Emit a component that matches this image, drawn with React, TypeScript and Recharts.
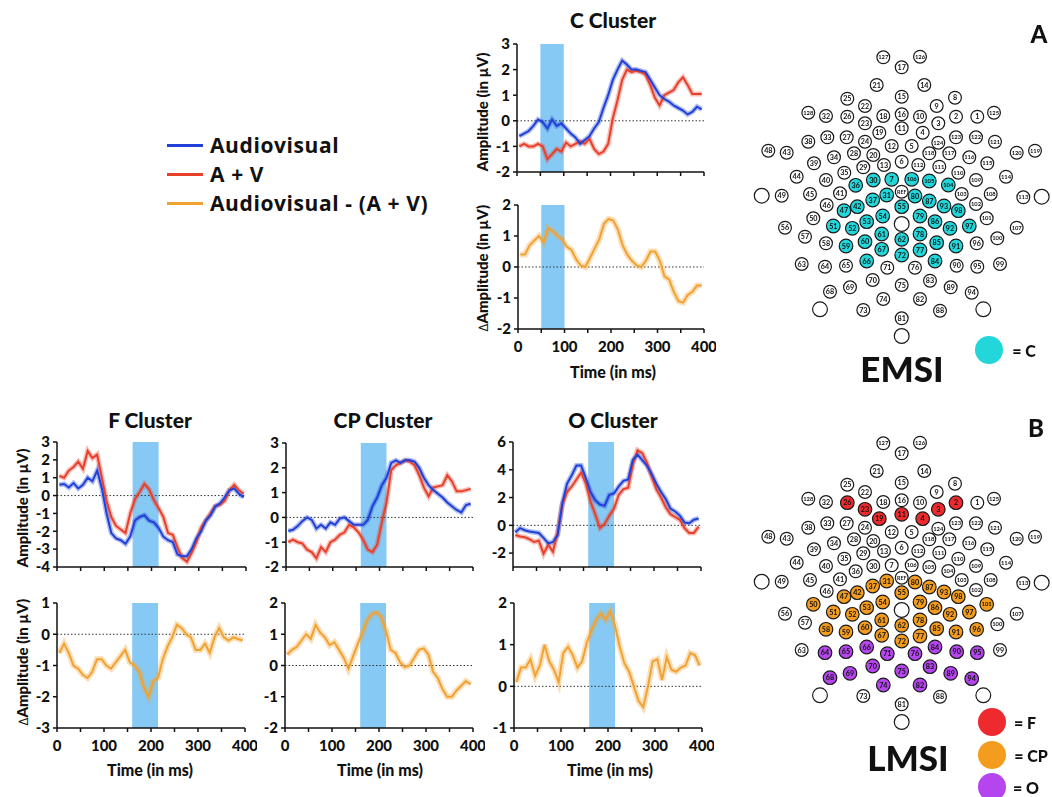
import React from 'react';
import {
  ComposedChart,
  Line,
  XAxis,
  YAxis,
  ReferenceArea,
  ReferenceLine,
  ScatterChart,
  Scatter,
} from 'recharts';

const FONT = 'Lato, "Open Sans", sans-serif';
const BLUE = '#2040d8';
const RED = '#e8402a';
const ORANGE = '#f2a233';
const SHADE = '#86c9f4';

// time axis (ms)
const times = [
  5, 15, 25, 35, 45, 55, 65, 75, 85, 95, 105, 115, 125, 135, 145, 155, 165, 175, 185, 195,
  205, 215, 225, 235, 245, 255, 265, 275, 285, 295, 305, 315, 325, 335, 345, 355, 365, 375, 385, 395,
];
const xTicks = [0, 50, 100, 150, 200, 250, 300, 350, 400];

// C cluster (EMSI)
const cAudiovisual = [
  -0.6, -0.5, -0.4, -0.2, 0.05, -0.05, -0.3, 0.05, -0.2, -0.1, -0.3, -0.5, -0.65, -0.9, -0.75, -0.6, -0.3, -0.05, 0.5, 1.0,
  1.6, 2.0, 2.35, 2.2, 2.0, 2.0, 1.95, 1.9, 1.6, 1.3, 1.0, 0.85, 0.75, 0.6, 0.5, 0.4, 0.25, 0.35, 0.55, 0.45,
];
const cSum = [
  -1.0, -0.9, -1.0, -1.0, -0.9, -1.0, -1.5, -1.3, -1.1, -1.2, -0.85, -1.0, -0.9, -0.8, -0.9, -0.7, -1.1, -1.3, -1.2, -0.9,
  0.1, 0.8, 1.6, 2.0, 1.9, 1.95, 1.9, 1.8, 1.4, 0.9, 0.6, 1.0, 1.1, 1.2, 1.5, 1.7, 1.4, 1.05, 1.05, 1.05,
];
const cDiff = [
  0.4, 0.4, 0.7, 0.85, 1.0, 0.8, 1.25, 1.15, 1.0, 0.9, 0.65, 0.55, 0.25, 0.05, 0.0, 0.3, 0.6, 0.9, 1.4, 1.55,
  1.5, 1.2, 0.7, 0.4, 0.2, 0.05, 0.0, 0.2, 0.5, 0.5, 0.2, -0.3, -0.4, -0.8, -1.1, -1.15, -0.9, -0.8, -0.6, -0.6,
];

// F cluster (LMSI)
const fAudiovisual = [
  0.6, 0.65, 0.45, 0.7, 0.4, 0.6, 1.0, 0.8, 1.4, 0.4, -1.0, -2.1, -2.4, -2.5, -2.7, -2.3, -1.4, -1.2, -1.1, -1.4,
  -1.5, -1.8, -2.3, -2.5, -2.6, -3.3, -3.4, -3.4, -3.0, -2.4, -2.0, -1.4, -1.1, -0.6, -0.45, -0.1, 0.3, 0.4, 0.1, -0.1,
];
const fSum = [
  1.1, 1.0, 1.4, 1.6, 1.9, 1.5, 2.5, 2.1, 2.3, 1.0, -0.3, -1.2, -1.7, -1.9, -2.1, -1.0, -0.2, 0.2, 0.65, 0.35,
  -0.25, -0.7, -1.2, -2.1, -2.2, -2.9, -3.5, -3.7, -3.2, -2.6, -1.8, -1.4, -1.0, -0.6, -0.5, -0.3, 0.3, 0.6, 0.3, 0.1,
];
const fDiff = [
  -0.6, -0.3, -0.6, -1.0, -1.1, -1.3, -1.4, -1.2, -0.8, -0.8, -1.0, -1.1, -0.9, -0.7, -0.5, -0.9, -1.0, -1.2, -1.7, -2.0,
  -1.5, -1.4, -0.8, -0.4, -0.1, 0.3, 0.2, 0.0, -0.1, -0.5, -0.5, -0.3, -0.6, -0.1, 0.2, -0.1, -0.2, -0.1, -0.15, -0.2,
];

// CP cluster (LMSI)
const cpAudiovisual = [
  -0.55, -0.5, -0.35, -0.15, 0.0, -0.1, -0.45, -0.3, -0.45, -0.2, -0.3, -0.05, 0.0, -0.15, -0.3, -0.3, -0.3, -0.1, 0.45, 0.8,
  1.3, 1.6, 2.2, 2.3, 2.2, 2.3, 2.3, 2.25, 2.0, 1.6, 1.3, 1.1, 0.95, 0.8, 0.6, 0.45, 0.3, 0.2, 0.5, 0.55,
];
const cpSum = [
  -1.0, -0.9, -1.0, -1.05, -1.3, -1.4, -1.65, -1.2, -1.4, -1.0, -0.9, -0.7, -0.6, -0.3, -0.4, -0.6, -0.9, -1.3, -1.4, -1.1,
  -0.2, 0.6, 1.9, 2.1, 2.2, 2.3, 2.25, 2.1, 1.7, 1.2, 0.85, 1.2, 1.25, 1.3, 1.7, 1.45, 1.05, 1.05, 1.1, 1.15,
];
const cpDiff = [
  0.35, 0.5, 0.6, 0.8, 1.0, 0.85, 1.3, 1.05, 0.9, 0.65, 0.75, 0.5, 0.25, -0.1, 0.3, 0.7, 1.05, 1.45, 1.65, 1.7,
  1.55, 1.1, 0.5, 0.4, 0.1, -0.05, 0.0, 0.25, 0.5, 0.55, 0.35, -0.2, -0.4, -0.75, -1.0, -1.0, -0.8, -0.65, -0.5, -0.6,
];

// O cluster (LMSI)
const oAudiovisual = [
  -0.5, -0.2, -0.35, -0.45, -0.5, -0.55, -0.9, -1.3, -1.2, -0.7, 1.6, 3.0, 3.6, 4.3, 4.3, 3.4, 2.4, 1.8, 1.5, 1.4,
  2.2, 2.3, 2.8, 3.2, 3.3, 4.7, 5.1, 4.7, 4.3, 3.7, 3.0, 2.4, 1.9, 1.2, 1.0, 0.7, 0.2, 0.15, 0.4, 0.5,
];
const oSum = [
  -0.7, -0.8, -0.85, -1.0, -1.2, -1.1, -2.05, -1.4, -1.9, -0.5, 1.5, 2.4, 2.8, 3.3, 3.8, 3.0, 1.7, 0.8, -0.2, 0.1,
  0.7, 1.2, 2.2, 2.6, 2.7, 4.4, 5.4, 5.2, 4.5, 3.5, 2.6, 2.0, 1.3, 0.8, 0.6, 0.4, -0.2, -0.55, -0.55, -0.1,
];
const oDiff = [
  0.1, 0.45, 0.45, 0.65, 0.25, 0.5, 1.0, 0.6, 0.4, 0.1, 0.8, 0.95, 0.75, 0.45, 0.6, 1.05, 1.35, 1.6, 1.75, 1.6,
  1.8, 1.45, 0.95, 0.55, 0.35, 0.0, -0.35, -0.5, 0.0, 0.6, 0.65, 0.15, 0.7, 0.4, 0.35, 0.45, 0.5, 0.8, 0.75, 0.5,
];

// HydroCel-style sensor layout: [label, x, y] (REF at origin, y up)
const electrodeSites: [string, number, number][] = [
  ['127', -18.4, 134.4], ['126', 18.3, 135], ['17', 0, 124.4], ['21', -25, 106.7], ['14', 22.6, 106.7],
  ['15', 0, 95], ['25', -54.4, 93], ['8', 53.3, 94], ['22', -36.7, 85.7], ['9', 35, 85.7],
  ['128', -93.4, 79], ['32', -75.7, 75.7], ['26', -54.4, 75], ['18', -18.4, 75.7], ['16', 0, 77.4],
  ['10', 18.3, 75], ['2', 54.3, 75], ['1', 75.6, 75], ['125', 92.3, 79], ['23', -36.7, 68.4],
  ['3', 36.6, 68.4], ['11', 0, 63.4], ['19', -22.4, 59], ['4', 21, 59], ['38', -93.4, 50],
  ['33', -74.4, 54.4], ['27', -55, 54.4], ['24', -36.7, 50], ['12', -10, 45.7], ['5', 10, 45.7],
  ['124', 36.6, 49], ['123', 54.3, 54.4], ['122', 74.3, 54.4], ['121', 93.3, 50], ['48', -133.4, 41],
  ['43', -115, 39], ['28', -47.7, 38.4], ['20', -28.4, 36.7], ['118', 27.6, 38.4], ['117', 47.6, 38.4],
  ['116', 67.6, 34.4], ['120', 115, 39], ['119', 133.3, 41], ['39', -87.7, 28.4], ['34', -67.7, 34.4],
  ['6', 0, 30], ['13', -17.7, 26.7], ['112', 16.6, 26.7], ['111', 37.6, 25], ['115', 85.6, 28.4],
  ['29', -38.4, 24.4], ['35', -57.4, 19], ['110', 56.6, 19], ['44', -105, 15], ['114', 104.3, 15],
  ['40', -75.7, 11.7], ['109', 74.3, 11.7], ['36', -46, 6.4], ['30', -28.4, 11.7], ['7', -10, 12.4],
  ['106', 10, 12.4], ['105', 27.6, 10.7], ['104', 46.6, 6.7], ['', -140, -4], ['49', -120, -4],
  ['45', -91.7, -2.3], ['41', -61.7, -1.6], ['REF', 0, 0], ['31', -15, -3.3], ['80', 13.3, -4.3],
  ['103', 60, -2.3], ['108', 89, -2.3], ['113', 121.6, -5.6], ['', 140, -5], ['46', -75, -13.3],
  ['37', -29, -8.3], ['87', 27.6, -9.3], ['93', 42.3, -14.3], ['102', 74.3, -12.3], ['47', -57.7, -19],
  ['42', -44.4, -15], ['55', 0, -15], ['98', 56.6, -19], ['50', -88.4, -26.6], ['54', -19, -24.3],
  ['79', 18.3, -24.3], ['101', 85, -26.6], ['56', -116.7, -36], ['51', -68.4, -34.3], ['52', -49.4, -36.6],
  ['53', -35, -30], ['', 0, -32.3], ['86', 33.3, -30], ['92', 48.3, -36.6], ['97', 67.6, -34.3],
  ['107', 115, -36], ['57', -96.7, -45], ['61', -20, -42.3], ['78', 18.3, -42.3], ['100', 95.6, -46.6],
  ['58', -75.7, -51.6], ['59', -55.7, -54.3], ['60', -36.7, -50], ['62', 0, -47.6], ['85', 35, -51],
  ['91', 54.3, -54.3], ['96', 75, -51.6], ['67', -20, -57.6], ['72', 0, -63.3], ['77', 18.3, -58.3],
  ['63', -100, -72.3], ['64', -76.7, -75], ['65', -55.7, -74], ['66', -35, -69.3], ['71', -14.4, -76],
  ['76', 13.3, -76], ['84', 33.3, -69.3], ['90', 55, -74], ['95', 75.6, -75], ['99', 98.3, -72.3],
  ['70', -29, -88.3], ['75', 0, -93.3], ['83', 28.3, -89], ['69', -51.7, -95.6], ['89', 49, -95.6],
  ['68', -71.7, -100], ['94', 70, -101], ['74', -18.4, -107.3], ['82', 18.3, -107.3], ['', -81.7, -117.6],
  ['', 81.6, -117.6], ['73', -38.4, -118.3], ['88', 38.3, -119], ['81', 0, -126.6], ['', 0, -144.3],
];

const cSites = ['36', '30', '7', '106', '105', '104', '31', '80', '37', '87', '93', '47', '42', '55', '98', '54', '79',
  '51', '52', '53', '86', '92', '97', '61', '78', '59', '60', '62', '85', '91', '67', '72', '77', '66', '84'];
const fSites = ['26', '23', '19', '11', '4', '3', '2'];
const cpSites = ['31', '80', '37', '87', '93', '98', '47', '42', '55', '50', '54', '79', '101', '51', '52', '53', '86',
  '92', '97', '61', '78', '58', '59', '60', '62', '85', '91', '96', '67', '72', '77'];
const oSites = ['64', '65', '66', '71', '76', '84', '90', '95', '68', '69', '70', '75', '83', '89', '94', '74', '82'];

const CYAN = '#22d6da';
const F_RED = '#ee2a2e';
const CP_ORANGE = '#f39c1e';
const O_PURPLE = '#b545ee';

const PAD_L = 50;
const PAD_T = 14;
const PAD_R = 12;
const AXIS_H = 30;

type Series = { values: number[]; color: string; band: number };

function ErpChart({ left, top, width, height, series, yDomain, yTicks, shade, xLabels }: {
  left: number; top: number; width: number; height: number; series: Series[];
  yDomain: [number, number]; yTicks: number[]; shade: [number, number]; xLabels: boolean;
}) {
  const data = times.map((t, i) => {
    const row: Record<string, number> = { t };
    series.forEach((s, k) => { row['s' + k] = s.values[i]; });
    return row;
  });
  const tickStyle = { fill: '#111', fontSize: 15, fontWeight: 900, fontFamily: FONT };
  return (
    <div style={{ position: 'absolute', left: left - PAD_L, top: top - PAD_T }}>
      <ComposedChart
        width={width + PAD_L + PAD_R}
        height={height + PAD_T + AXIS_H}
        data={data}
        margin={{ top: PAD_T, right: PAD_R, bottom: 0, left: 0 }}
      >
        <XAxis
          dataKey="t"
          type="number"
          domain={[0, 400]}
          ticks={xTicks}
          allowDataOverflow
          height={AXIS_H}
          tickSize={4}
          tickMargin={8}
          stroke="#111"
          strokeWidth={1.5}
          tick={tickStyle}
          interval={0}
          tickFormatter={(v: number) => (xLabels && v % 100 === 0 ? String(v) : '')}
        />
        <YAxis
          type="number"
          domain={yDomain}
          ticks={yTicks}
          allowDataOverflow
          width={PAD_L}
          tickSize={4}
          tickMargin={3}
          stroke="#111"
          strokeWidth={1.5}
          tick={tickStyle}
          interval={0}
        />
        <ReferenceArea
          x1={shade[0]}
          x2={shade[1]}
          y1={yDomain[0]}
          y2={yDomain[1]}
          fill={SHADE}
          fillOpacity={1}
          stroke="none"
        />
        <ReferenceLine y={0} stroke="#333" strokeDasharray="1.5 2" strokeWidth={1} />
        {series.map((s, k) => (
          <Line
            key={'b' + k}
            dataKey={'s' + k}
            type="linear"
            stroke={s.color}
            strokeOpacity={0.35}
            strokeWidth={s.band}
            dot={false}
            activeDot={false}
            isAnimationActive={false}
          />
        ))}
        {series.map((s, k) => (
          <Line
            key={'l' + k}
            dataKey={'s' + k}
            type="linear"
            stroke={s.color}
            strokeWidth={2}
            dot={false}
            activeDot={false}
            isAnimationActive={false}
          />
        ))}
      </ComposedChart>
    </div>
  );
}

function Text({ x, y, size, children, rotate, weight = 900 }: {
  x: number; y: number; size: number; children: React.ReactNode; rotate?: boolean; weight?: number;
}) {
  return (
    <div
      style={{
        position: 'absolute',
        left: x,
        top: y,
        transform: `translate(-50%, -50%)${rotate ? ' rotate(-90deg)' : ''}`,
        whiteSpace: 'nowrap',
        fontFamily: FONT,
        fontWeight: weight,
        fontSize: size,
        color: '#111',
        lineHeight: 1,
      }}
    >
      {children}
    </div>
  );
}

const amp = 'Amplitude (in µV)';
const dAmp = (
  <span>
    <span style={{ fontWeight: 400, fontSize: 13 }}>∆</span>Amplitude (in µV)
  </span>
);

function ElectrodeMap({ top, colors }: { top: number; colors: Record<string, string> }) {
  const pts = electrodeSites.map(([label, x, y]) => ({ label, x, y, fill: colors[label] ?? '#fff' }));
  const renderSite = (props: any) => {
    const { cx, cy, payload } = props;
    const colored = payload.fill !== '#fff';
    const r = payload.label ? (colored ? 6.8 : 6.4) : 7.4;
    const len = payload.label.length;
    const fs = payload.label === 'REF' ? 5.2 : len === 3 ? 5.8 : 7.2;
    return (
      <g>
        <circle cx={cx} cy={cy} r={r} fill={payload.fill} stroke="#1a1a1a" strokeWidth={1.2} />
        {payload.label && (
          <text
            x={cx}
            y={cy + fs * 0.36}
            textAnchor="middle"
            fontSize={fs}
            fontWeight={700}
            fontFamily={FONT}
            fill="#111"
            stroke="none"
          >
            {payload.label}
          </text>
        )}
      </g>
    );
  };
  return (
    <div style={{ position: 'absolute', left: 740, top, opacity: 0.999, willChange: 'transform' }}>
      <ScatterChart width={312} height={390} margin={{ top: 0, right: 0, bottom: 0, left: 0 }}>
        <XAxis type="number" dataKey="x" domain={[-161.7, 150.3]} allowDataOverflow hide />
        <YAxis type="number" dataKey="y" domain={[-198.3, 191.7]} allowDataOverflow hide />
        <Scatter data={pts} shape={renderSite} isAnimationActive={false} />
      </ScatterChart>
    </div>
  );
}

function Swatch({ x, y, color }: { x: number; y: number; color: string }) {
  return (
    <div
      style={{
        position: 'absolute',
        left: x - 14,
        top: y - 14,
        width: 28,
        height: 28,
        borderRadius: 14,
        background: color,
      }}
    />
  );
}

function LegendRow({ y, color, label }: { y: number; color: string; label: string }) {
  return (
    <>
      <div style={{ position: 'absolute', left: 167, top: y - 1.5, width: 36, height: 3, background: color }} />
      <div
        style={{
          position: 'absolute',
          left: 210,
          top: y - 13,
          fontFamily: '"Open Sans", Lato, sans-serif',
          fontWeight: 700,
          fontSize: 21,
          letterSpacing: 0.6,
          lineHeight: '26px',
          color: '#111',
          whiteSpace: 'nowrap',
        }}
      >
        {label}
      </div>
    </>
  );
}

export default function App() {
  const mapA: Record<string, string> = {};
  cSites.forEach((s) => { mapA[s] = CYAN; });
  const mapB: Record<string, string> = {};
  fSites.forEach((s) => { mapB[s] = F_RED; });
  cpSites.forEach((s) => { mapB[s] = CP_ORANGE; });
  oSites.forEach((s) => { mapB[s] = O_PURPLE; });

  return (
    <div style={{ position: 'absolute', left: 0, top: 0, width: 1052, height: 797, background: '#fff', overflow: 'hidden' }}>
      {/* legend */}
      <LegendRow y={145} color={BLUE} label="Audiovisual" />
      <LegendRow y={174} color={RED} label="A + V" />
      <LegendRow y={203} color={ORANGE} label="Audiovisual - (A + V)" />

      {/* C cluster */}
      <Text x={613} y={19} size={21}>C Cluster</Text>
      <Text x={482} y={112} size={15} rotate>{amp}</Text>
      <ErpChart left={517} top={44} width={187} height={128}
        series={[{ values: cSum, color: RED, band: 5 }, { values: cAudiovisual, color: BLUE, band: 5 }]}
        yDomain={[-2, 3]} yTicks={[-2, -1, 0, 1, 2, 3]} shade={[50, 100]} xLabels={false} />
      <Text x={482} y={268} size={15} rotate>{dAmp}</Text>
      <ErpChart left={518} top={205} width={186} height={124}
        series={[{ values: cDiff, color: ORANGE, band: 6 }]}
        yDomain={[-2, 2]} yTicks={[-2, -1, 0, 1, 2]} shade={[50, 100]} xLabels />
      <Text x={613} y={372} size={16}>Time (in ms)</Text>

      {/* F cluster */}
      <Text x={150} y={419} size={21}>F Cluster</Text>
      <Text x={22} y={508} size={15} rotate>{amp}</Text>
      <ErpChart left={57} top={442} width={189} height={125}
        series={[{ values: fSum, color: RED, band: 5 }, { values: fAudiovisual, color: BLUE, band: 5 }]}
        yDomain={[-4, 3]} yTicks={[-4, -3, -2, -1, 0, 1, 2, 3]} shade={[160, 215]} xLabels={false} />
      <Text x={22} y={662} size={15} rotate>{dAmp}</Text>
      <ErpChart left={57} top={603} width={188} height={125}
        series={[{ values: fDiff, color: ORANGE, band: 6 }]}
        yDomain={[-3, 1]} yTicks={[-3, -2, -1, 0, 1]} shade={[160, 215]} xLabels />
      <Text x={150} y={770} size={16}>Time (in ms)</Text>

      {/* CP cluster */}
      <Text x={383} y={419} size={21}>CP Cluster</Text>
      <ErpChart left={286} top={443} width={187} height={124}
        series={[{ values: cpSum, color: RED, band: 5 }, { values: cpAudiovisual, color: BLUE, band: 5 }]}
        yDomain={[-2, 3]} yTicks={[-2, -1, 0, 1, 2, 3]} shade={[160, 215]} xLabels={false} />
      <ErpChart left={285} top={603} width={188} height={125}
        series={[{ values: cpDiff, color: ORANGE, band: 6 }]}
        yDomain={[-2, 2]} yTicks={[-2, -1, 0, 1, 2]} shade={[160, 215]} xLabels />
      <Text x={380} y={770} size={16}>Time (in ms)</Text>

      {/* O cluster */}
      <Text x={613} y={419} size={21}>O Cluster</Text>
      <ErpChart left={513} top={442} width={188} height={125}
        series={[{ values: oSum, color: RED, band: 5 }, { values: oAudiovisual, color: BLUE, band: 5 }]}
        yDomain={[-3, 6]} yTicks={[-2, 0, 2, 4, 6]} shade={[160, 215]} xLabels={false} />
      <ErpChart left={514} top={603} width={188} height={125}
        series={[{ values: oDiff, color: ORANGE, band: 6 }]}
        yDomain={[-1, 2]} yTicks={[-1, 0, 1, 2]} shade={[160, 215]} xLabels />
      <Text x={610} y={770} size={16}>Time (in ms)</Text>

      {/* sensor maps */}
      <ElectrodeMap top={0} colors={mapA} />
      <ElectrodeMap top={385.5} colors={mapB} />
      <Text x={1039} y={34} size={24}>A</Text>
      <Text x={1036} y={428} size={24}>B</Text>
      <Text x={902} y={368} size={35}>EMSI</Text>
      <Text x={908} y={757} size={35}>LMSI</Text>
      <Swatch x={989} y={350} color={CYAN} />
      <Text x={1024} y={351} size={16}>= C</Text>
      <Swatch x={992} y={722} color={F_RED} />
      <Text x={1025} y={723} size={16}>= F</Text>
      <Swatch x={992} y={755} color={CP_ORANGE} />
      <Text x={1031} y={756} size={16}>= CP</Text>
      <Swatch x={992} y={787} color={O_PURPLE} />
      <Text x={1026} y={788} size={16}>= O</Text>
    </div>
  );
}
